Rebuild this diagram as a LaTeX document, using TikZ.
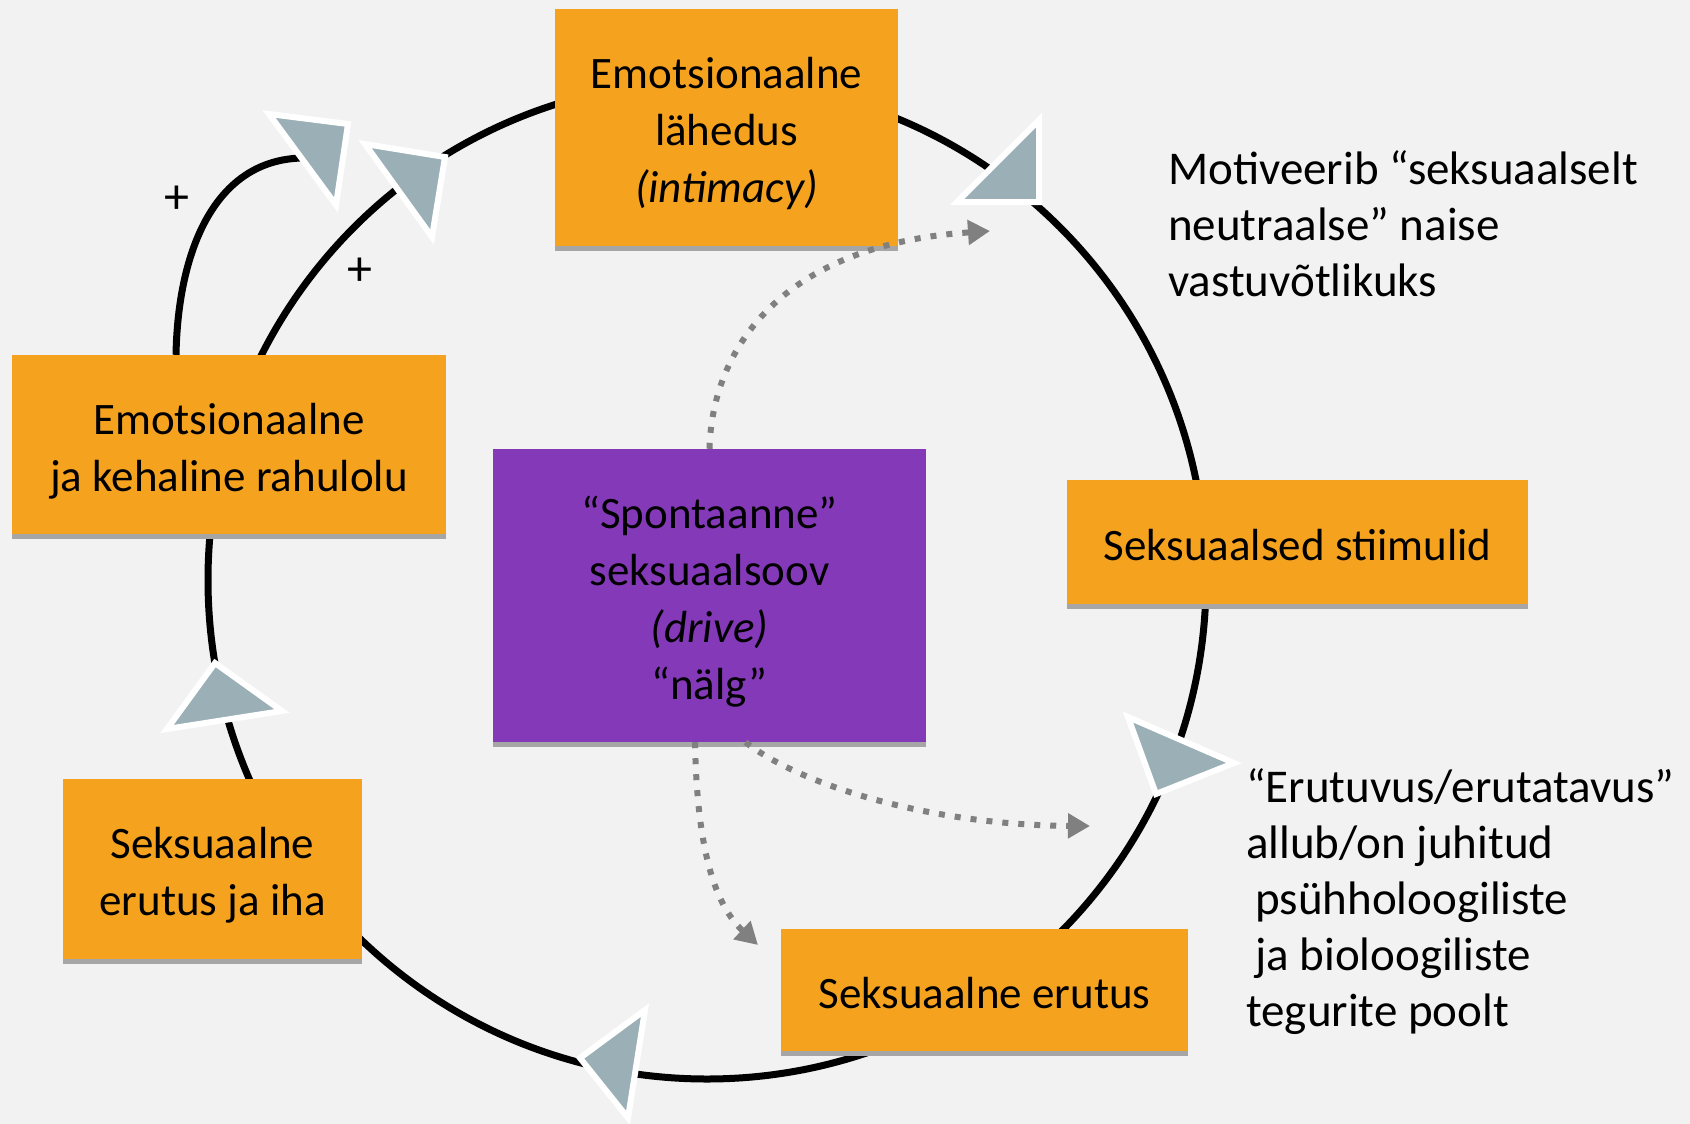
\documentclass[tikz,border=0pt]{standalone}
\usepackage{fontspec}
\setmainfont{Carlito}
\usetikzlibrary{arrows.meta,shadows}
\definecolor{boxorange}{HTML}{F5A31F}
\definecolor{drivepurple}{HTML}{8439B8}
\definecolor{wedgegray}{HTML}{9BAFB6}
\definecolor{bggray}{HTML}{F2F2F2}
\definecolor{shadowgray}{HTML}{A6A6A6}
\definecolor{dotgray}{HTML}{808080}
% struts that keep the box texts placed like the slide
\newcommand{\firstln}{\rule{0pt}{48pt}}
\newcommand{\lastln}{\rule[-12pt]{0pt}{0pt}}

\begin{document}
\begin{tikzpicture}[x=1pt,y=-1pt,
	box/.style={fill=boxorange, align=center, inner sep=0pt, font=\fontsize{45}{57}\selectfont,
		copy shadow={shadow xshift=0pt, shadow yshift=-5pt, fill=shadowgray, draw=none}},
	ring/.style={line width=7pt},
	wedge/.style={fill=wedgegray, draw=white, line width=6pt, line join=miter},
	hint/.style={dotgray, line width=6pt, dash pattern=on 6pt off 10pt, -{Triangle[length=22pt,width=24pt]}},
	note/.style={align=left, anchor=west, inner sep=0pt, font=\fontsize{47}{56}\selectfont}]

		\path[use as bounding box, fill=bggray] (0,0) rectangle (1690,1124);

		% the cycle
		\coordinate (hub) at (707,580);
		\draw[ring] (hub) circle (499);

		\draw (726.5,127.5) node [box, minimum width=343pt, minimum height=237pt] (lahedus) {\firstln Emotsionaalne\\lähedus\\\textit{(intimacy)}\lastln};
		\draw (229,444.5) node [box, minimum width=434pt, minimum height=179pt] (rahulolu) {\firstln Emotsionaalne\\ja kehaline rahulolu\lastln};
		\draw (1297.5,542) node [box, minimum width=461pt, minimum height=124pt] (stiimulid) {\firstln Seksuaalsed stiimulid\lastln};
		\draw (212.5,869) node [box, minimum width=299pt, minimum height=180pt] (iha) {\firstln Seksuaalne\\erutus ja iha\lastln};
		\draw (984.5,990) node [box, minimum width=407pt, minimum height=122pt] (erutus) {\firstln Seksuaalne erutus\lastln};
		\draw (709.5,595.5) node [box, fill=drivepurple, minimum width=433pt, minimum height=293pt] (drive) {\firstln “Spontaanne”\\seksuaalsoov\\\textit{(drive)}\\“nälg”\lastln};

		% outer loop
		\coordinate (loopend) at (302,158);
		\draw[ring] ([xshift=-53pt]rahulolu.north) .. controls (178,250) and (215,160) .. (loopend);
		\node[font=\fontsize{50}{50}\selectfont] (plusA) at (177,200) {+};
		\node[font=\fontsize{50}{50}\selectfont] (plusB) at (360,272) {+};

		% arrow heads on the cycle
		\draw[wedge] (269,114) -- (348,124) -- (336,205) -- cycle;
		\draw[wedge] (365,144) -- (445,157) -- (432,237) -- cycle;
		\draw[wedge] (957,202) -- (1039,120) -- (1039,202) -- cycle;
		\draw[wedge] (1128,717) -- (1234,763) -- (1156,794) -- cycle;
		\draw[wedge] (215,663) -- (282,711) -- (167,729) -- cycle;
		\draw[wedge] (645,1010) -- (628,1118) -- (580,1058) -- cycle;

		% dotted influences
		\coordinate (hintA) at (990,231);
		\coordinate (hintB) at (1090,826);
		\coordinate (hintC) at (758,945);
		\draw[hint] (drive.north) .. controls (712,350) and (780,245) .. (hintA);
		\draw[hint] ([xshift=36pt]drive.south) .. controls (800,785) and (930,825) .. (hintB);
		\draw[hint] ([xshift=-14.5pt]drive.south) .. controls (697,850) and (715,905) .. (hintC);

		\node[note] (motiv) at (1168,224) {Motiveerib “seksuaalselt\\neutraalse” naise\\vastuvõtlikuks};
		\node[note] (allub) at (1246,902) {“Erutuvus/erutatavus”\\allub/on juhitud\\\hspace*{9pt}psühholoogiliste\\\hspace*{9pt}ja bioloogiliste\\tegurite poolt};
	\end{tikzpicture}
\end{document}
